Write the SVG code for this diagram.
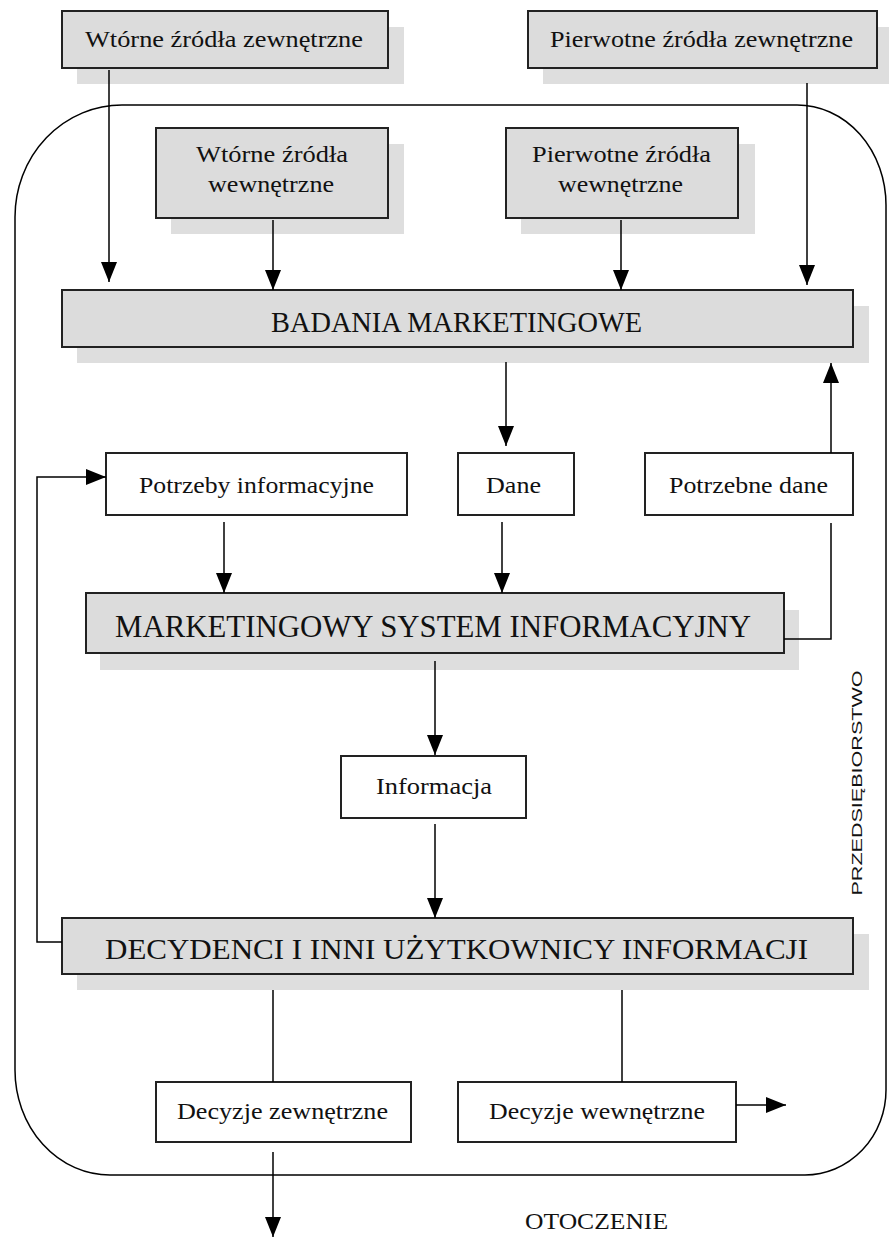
<svg xmlns="http://www.w3.org/2000/svg" width="889" height="1238" viewBox="0 0 889 1238">
<defs>
<marker id="ah" markerUnits="userSpaceOnUse" markerWidth="20" markerHeight="16" refX="20" refY="8" orient="auto">
<path d="M0,0 L20,8 L0,16 z" fill="#000"/>
</marker>
<style>
.box{fill:#dcdcdc;stroke:#222;stroke-width:2}
.wbox{fill:#fff;stroke:#222;stroke-width:2}
.sh{fill:#dedede}
.t{font-family:"Liberation Serif",serif;font-size:24px;fill:#111;text-anchor:start}
.tt{font-family:"Liberation Serif",serif;font-size:30px;fill:#111}
.c{fill:none;stroke:#000;stroke-width:1.5}
.ca{fill:none;stroke:#000;stroke-width:1.5;marker-end:url(#ah)}
</style>
</defs>
<rect width="889" height="1238" fill="#fff"/>
<g id="container">
<path class="c" d="M122,105 L797,105 A89,100 0 0 1 886,205 L886,1090 A81,85 0 0 1 805,1175 L110,1175 A95,105 0 0 1 15,1070 L15,217 A107,112 0 0 1 122,105 Z"/>
</g>
<g id="wtorne-zewn">
<rect class="sh" x="77" y="27" width="327" height="57"/>
<rect class="box" x="62" y="11" width="326" height="57"/>
<text class="t" x="85" y="47" textLength="278" lengthAdjust="spacingAndGlyphs">Wtórne źródła zewnętrzne</text>
</g>
<g id="pierwotne-zewn">
<rect class="sh" x="543" y="27" width="346" height="57"/>
<rect class="box" x="528" y="11" width="349" height="57"/>
<text class="t" x="550" y="47" textLength="303" lengthAdjust="spacingAndGlyphs">Pierwotne źródła zewnętrzne</text>
</g>
<g id="wtorne-wewn">
<rect class="sh" x="171" y="144" width="233" height="90"/>
<rect class="box" x="156" y="128" width="232" height="90"/>
<text class="t" x="196" y="162" textLength="152" lengthAdjust="spacingAndGlyphs">Wtórne źródła</text>
<text class="t" x="208" y="192" textLength="126" lengthAdjust="spacingAndGlyphs">wewnętrzne</text>
</g>
<g id="pierwotne-wewn">
<rect class="sh" x="521" y="144" width="234" height="90"/>
<rect class="box" x="506" y="128" width="232" height="90"/>
<text class="t" x="532" y="162" textLength="179" lengthAdjust="spacingAndGlyphs">Pierwotne źródła</text>
<text class="t" x="558" y="192" textLength="125" lengthAdjust="spacingAndGlyphs">wewnętrzne</text>
</g>
<g id="badania">
<rect class="sh" x="77" y="306" width="792" height="57"/>
<rect class="box" x="62" y="290" width="791" height="57"/>
<text class="tt" x="271" y="332" textLength="371" lengthAdjust="spacingAndGlyphs">BADANIA MARKETINGOWE</text>
</g>
<g id="potrzeby">
<rect class="wbox" x="106" y="453" width="301" height="62"/>
<text class="t" x="139" y="493" textLength="235" lengthAdjust="spacingAndGlyphs">Potrzeby informacyjne</text>
</g>
<g id="dane">
<rect class="wbox" x="458" y="453" width="116" height="62"/>
<text class="t" x="486" y="493" textLength="55" lengthAdjust="spacingAndGlyphs">Dane</text>
</g>
<g id="potrzebne-dane">
<rect class="wbox" x="645" y="453" width="208" height="62"/>
<text class="t" x="669" y="493" textLength="159" lengthAdjust="spacingAndGlyphs">Potrzebne dane</text>
</g>
<g id="msi">
<rect class="sh" x="100" y="610" width="699" height="60"/>
<rect class="box" x="86" y="593" width="698" height="60"/>
<text class="tt" x="115" y="637" style="font-size:32px" textLength="636" lengthAdjust="spacingAndGlyphs">MARKETINGOWY SYSTEM INFORMACYJNY</text>
</g>
<g id="informacja">
<rect class="wbox" x="341" y="756" width="185" height="62"/>
<text class="t" x="376" y="794" textLength="116" lengthAdjust="spacingAndGlyphs">Informacja</text>
</g>
<g id="decydenci">
<rect class="sh" x="77" y="934" width="792" height="56"/>
<rect class="box" x="62" y="918" width="791" height="56"/>
<text class="tt" x="105" y="959" textLength="703" lengthAdjust="spacingAndGlyphs">DECYDENCI I INNI UŻYTKOWNICY INFORMACJI</text>
</g>
<g id="decyzje-zewn">
<rect class="wbox" x="156" y="1082" width="255" height="60"/>
<text class="t" x="177" y="1119" textLength="211" lengthAdjust="spacingAndGlyphs">Decyzje zewnętrzne</text>
</g>
<g id="decyzje-wewn">
<rect class="wbox" x="458" y="1082" width="278" height="60"/>
<text class="t" x="489" y="1119" textLength="216" lengthAdjust="spacingAndGlyphs">Decyzje wewnętrzne</text>
</g>
<g id="labels">
<text transform="translate(862,783) rotate(-90)" style="font-family:'Liberation Sans',sans-serif;font-size:14px;fill:#111;text-anchor:middle" textLength="225" lengthAdjust="spacingAndGlyphs">PRZEDSIĘBIORSTWO</text>
<text class="t" x="525" y="1229" textLength="143" lengthAdjust="spacingAndGlyphs">OTOCZENIE</text>
</g>
<g id="connectors">
<path class="ca" d="M109,70 L109,282"/>
<path class="ca" d="M273,220 L273,290"/>
<path class="ca" d="M621,220 L621,290"/>
<path class="ca" d="M807,83 L807,285"/>
<path class="ca" d="M506,362 L506,446"/>
<path class="ca" d="M831,453 L831,363"/>
<path class="c" d="M784,639 L831,639 L831,523"/>
<path class="ca" d="M224,522 L224,593"/>
<path class="ca" d="M502,522 L502,593"/>
<path class="ca" d="M62,942 L37,942 L37,477 L106,477"/>
<path class="ca" d="M435,661 L435,755"/>
<path class="ca" d="M435,824 L435,918"/>
<path class="c" d="M273,990 L273,1082"/>
<path class="c" d="M622,990 L622,1082"/>
<path class="ca" d="M736,1105 L786,1105"/>
<path class="ca" d="M273,1152 L273,1237"/>
</g>
</svg>
